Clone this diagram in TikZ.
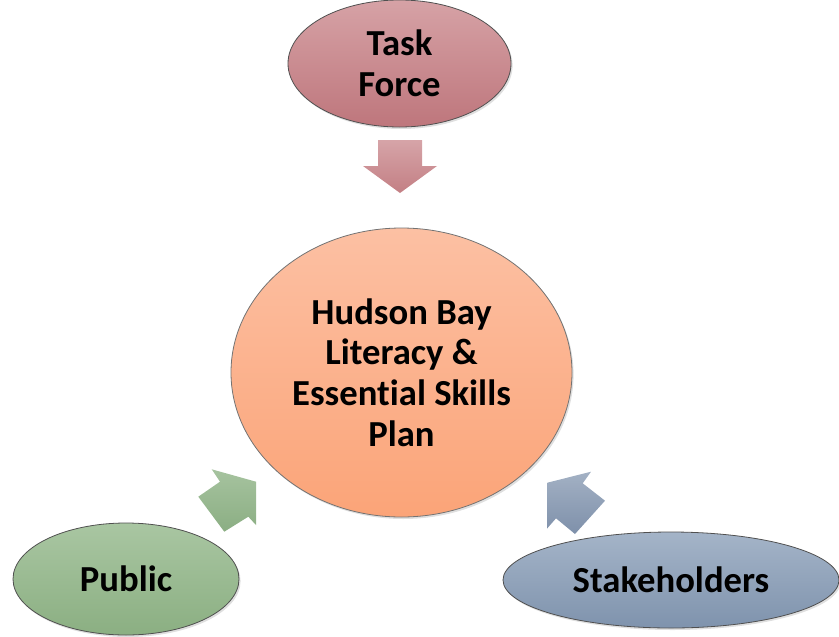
\documentclass[tikz,border=0pt]{standalone}
\usepackage{fontspec}
\setmainfont{Carlito}[Ligatures={NoCommon}]
\usetikzlibrary{shapes.geometric,shadows}
\definecolor{tfTop}{RGB}{214,162,166}
\definecolor{tfBot}{RGB}{190,118,124}
\definecolor{tfArTop}{RGB}{214,164,168}
\definecolor{tfArBot}{RGB}{195,127,132}
\definecolor{ctTop}{RGB}{252,192,163}
\definecolor{ctBot}{RGB}{251,164,120}
\definecolor{puTop}{RGB}{169,198,162}
\definecolor{puBot}{RGB}{139,175,130}
\definecolor{puArTop}{RGB}{166,195,159}
\definecolor{puArBot}{RGB}{139,174,131}
\definecolor{stTop}{RGB}{164,180,200}
\definecolor{stBot}{RGB}{127,147,173}
\definecolor{stArTop}{RGB}{163,177,196}
\definecolor{stArBot}{RGB}{126,144,170}
\definecolor{edge}{RGB}{80,80,80}
\tikzset{
  bubble/.style={ellipse, draw=edge, line width=0.6pt, inner sep=0pt,
    align=center, font=\fontsize{27.5}{30.5}\selectfont\bfseries,
    drop shadow={opacity=0.25, shadow xshift=1.2pt, shadow yshift=-1.5pt}},
  blockarrow/.style={draw=none}
}
\begin{document}
\begin{tikzpicture}[x=0.75pt,y=-0.75pt]
\useasboundingbox (0,0) rectangle (839,636);
% nodes
\node[bubble, top color=tfTop, bottom color=tfBot,
  minimum width=167.25pt, minimum height=95.25pt] (tf) at (399.5,63.5) {Task\\Force};
\node[bubble, top color=ctTop, bottom color=ctBot, draw=edge!80,
  minimum width=255.75pt, minimum height=216.75pt] (plan) at (401.5,372.5)
  {Hudson Bay\\Literacy \&\\Essential Skills\\Plan};
\node[bubble, top color=puTop, bottom color=puBot,
  minimum width=169.5pt, minimum height=84pt] (pub) at (126,579) {Public};
\node[bubble, top color=stTop, bottom color=stBot,
  minimum width=252pt, minimum height=72pt] (stk) at (671,580) {Stakeholders};
% block arrows
\shade[blockarrow, top color=tfArTop, bottom color=tfArBot]
  (378,140) -- (422,140) -- (422,166) -- (437,166) -- (400,193)
  -- (363,166) -- (378,166) -- cycle;
\shade[blockarrow, top color=puArTop, bottom color=puArBot]
  (198.3,496.7) -- (220,481.7) -- (211.7,469.3) -- (256,481.7)
  -- (256,525) -- (248.3,516.7) -- (224.3,531.7) -- cycle;
\shade[blockarrow, top color=stArTop, bottom color=stArBot]
  (605,500.7) -- (582.7,483.3) -- (591,471.7) -- (547.3,482.7)
  -- (547.3,528.3) -- (556,518.3) -- (575,534) -- cycle;
\end{tikzpicture}
\end{document}
